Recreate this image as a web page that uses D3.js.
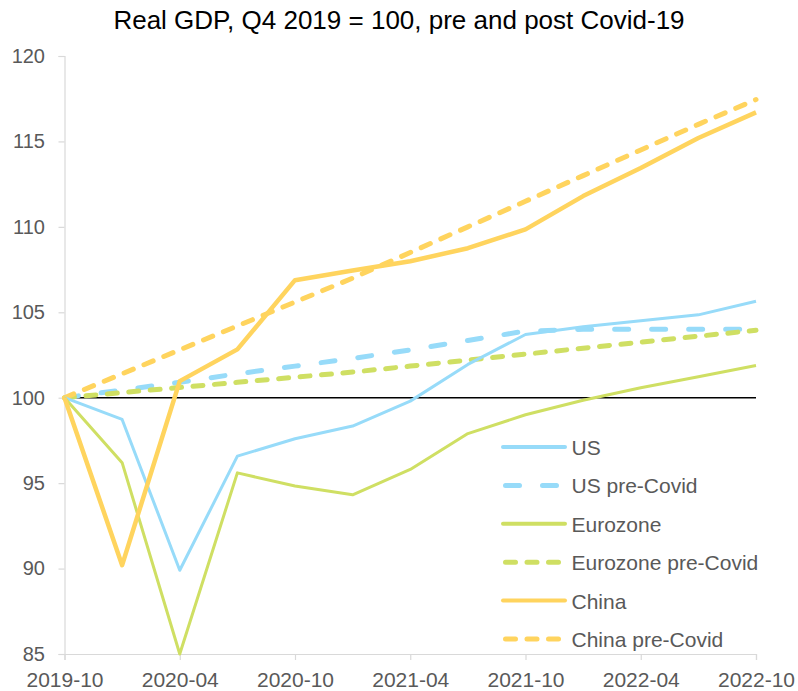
<!DOCTYPE html>
<html>
<head>
<meta charset="utf-8">
<script src="https://cdn.jsdelivr.net/npm/d3@7"></script>
<style>
  body { margin: 0; background: #fff; }
  text { font-family: "Liberation Sans", Arial, sans-serif; }
</style>
</head>
<body>
<div id="chart"></div>
<script>
const quarters = ["2019-10", "2020-01", "2020-04", "2020-07", "2020-10", "2021-01", "2021-04",
    "2021-07", "2021-10", "2022-01", "2022-04", "2022-07", "2022-10"]
const tickLabels = ["2019-10", "2020-04", "2020-10", "2021-04", "2021-10", "2022-04", "2022-10"]

const us = [100, 98.73, 89.9, 96.58, 97.6, 98.34, 99.8, 101.95, 103.7, 104.15, 104.5, 104.85, 105.65]
const usPre = [100, 100.45, 100.9, 101.4, 101.85, 102.3, 102.8, 103.35, 103.9, 104.0, 104.0, 104.0, 104.0]
const eurozone = [100, 96.2, 85.0, 95.6, 94.83, 94.32, 95.8, 97.9, 99.0, 99.85, 100.58, 101.23, 101.88]
const eurozonePre = [100, 100.3, 100.6, 100.9, 101.2, 101.5, 101.85, 102.2, 102.55, 102.9, 103.25, 103.6, 103.95]
const china = [100, 90.2, 100.97, 102.83, 106.88, 107.45, 107.99, 108.75, 109.85, 111.8, 113.45, 115.2, 116.7]
const chinaPre = [100, 101.4, 102.8, 104.2, 105.6, 107.0, 108.5, 110.0, 111.5, 113.0, 114.5, 116.0, 117.45]

const width = 798
const height = 691
const margin = {top: 56, right: 42, bottom: 37, left: 64.5}

const blue = "#97dbf9"
const green = "#cfdf63"
const yellow = "#ffd45e"

const series = [
    {name: "US", values: us, color: blue, w: 3, dash: null},
    {name: "US pre-Covid", values: usPre, color: blue, w: 5, dash: "14,23"},
    {name: "Eurozone", values: eurozone, color: green, w: 3, dash: null},
    {name: "Eurozone pre-Covid", values: eurozonePre, color: green, w: 5, dash: "10,11.5"},
    {name: "China", values: china, color: yellow, w: 4.5, dash: null},
    {name: "China pre-Covid", values: chinaPre, color: yellow, w: 5, dash: "10,11.5"}
]

const svg = d3.select("#chart").append("svg")
    .attr("width", width)
    .attr("height", height)

const x = d3.scalePoint()
    .domain(quarters)
    .range([margin.left, width - margin.right])

const y = d3.scaleLinear()
    .domain([85, 120])
    .range([height - margin.bottom, margin.top])

svg.append("text")
    .attr("x", 399)
    .attr("y", 28.5)
    .attr("text-anchor", "middle")
    .attr("font-size", 26)
    .attr("fill", "#000")
    .text("Real GDP, Q4 2019 = 100, pre and post Covid-19")

// y axis
const yAxis = svg.append("g")
    .attr("transform", `translate(${margin.left},0)`)
    .call(d3.axisLeft(y).tickValues(d3.range(85, 121, 5)).tickSize(6).tickPadding(13.5))
yAxis.select(".domain").attr("stroke", "#d9d9d9").attr("stroke-width", 1.2)
yAxis.selectAll(".tick line").attr("stroke", "#d9d9d9").attr("stroke-width", 1.2)
yAxis.selectAll(".tick text")
    .attr("font-size", 20)
    .attr("fill", "#595959")
    .attr("font-family", "Liberation Sans, Arial, sans-serif")

// x axis
const xAxis = svg.append("g")
    .attr("transform", `translate(0,${height - margin.bottom})`)
    .call(d3.axisBottom(x).tickValues(tickLabels).tickSize(6).tickPadding(11.8))
xAxis.select(".domain").attr("stroke", "#d9d9d9").attr("stroke-width", 1.2)
xAxis.selectAll(".tick line").attr("stroke", "#d9d9d9").attr("stroke-width", 1.2)
xAxis.selectAll(".tick text")
    .attr("font-size", 21)
    .attr("fill", "#595959")
    .attr("font-family", "Liberation Sans, Arial, sans-serif")

// baseline at 100
svg.append("line")
    .attr("x1", x(quarters[0]))
    .attr("x2", x(quarters[quarters.length - 1]))
    .attr("y1", y(100))
    .attr("y2", y(100))
    .attr("stroke", "#000")
    .attr("stroke-width", 1.5)

const line = d3.line()
    .x((d, i) => x(quarters[i]))
    .y(d => y(d))

// draw order: pre-Covid dashes under the actual lines
const order = [1, 3, 5, 0, 2, 4]
svg.append("g")
    .selectAll("path")
    .data(order.map(i => series[i]))
    .join("path")
    .attr("d", d => line(d.values))
    .attr("fill", "none")
    .attr("stroke", d => d.color)
    .attr("stroke-width", d => d.w)
    .attr("stroke-dasharray", d => d.dash)
    .attr("stroke-linecap", d => d.dash ? "round" : "butt")
    .attr("stroke-linejoin", "round")

// legend
const legend = svg.append("g")
    .attr("transform", "translate(503,447)")
const rows = legend.selectAll("g")
    .data(series)
    .join("g")
    .attr("transform", (d, i) => `translate(0,${i * 38.4})`)
rows.append("line")
    .attr("x1", d => d.dash ? 2.5 : 0)
    .attr("x2", d => d.dash ? 60 : 62)
    .attr("stroke", d => d.color)
    .attr("stroke-width", d => d.dash ? 5 : 4)
    .attr("stroke-dasharray", d => d.dash)
    .attr("stroke-linecap", "round")
rows.append("text")
    .attr("x", 68.5)
    .attr("y", 8)
    .attr("font-size", 21)
    .attr("fill", "#595959")
    .text(d => d.name)
</script>
</body>
</html>
